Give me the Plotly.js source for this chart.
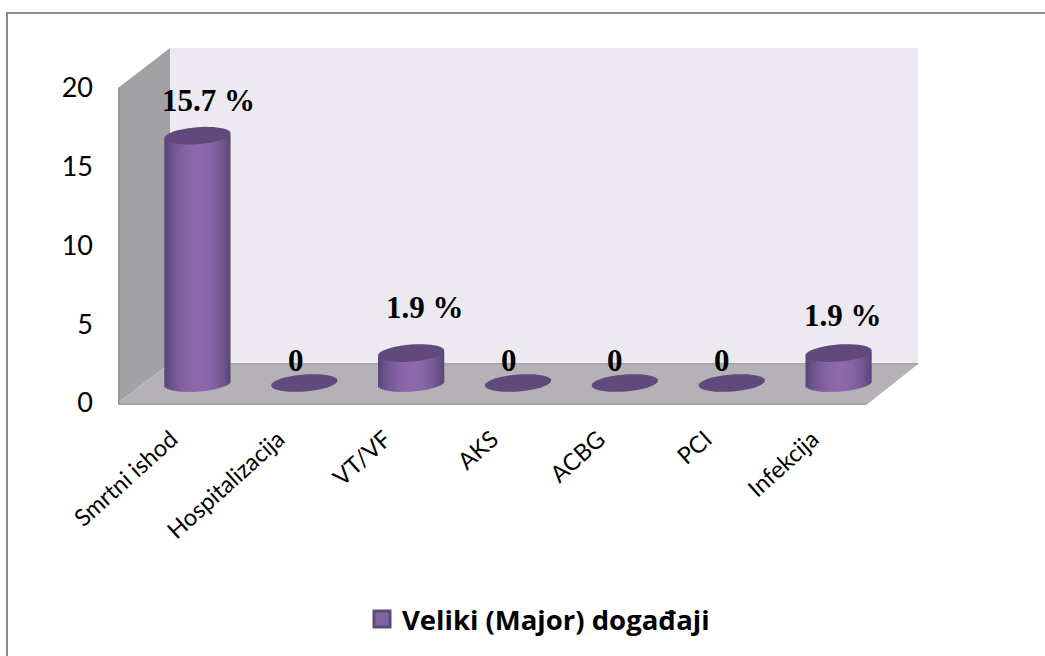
<!DOCTYPE html>
<html><head><meta charset="utf-8">
<script src="https://cdn.plot.ly/plotly-3.0.1.min.js"></script>
<style>html,body{margin:0;padding:0;background:#fff}#chart{width:1045px;height:656px}</style>
</head><body><div id="chart"></div>
<script>
var categories = ["Smrtni ishod","Hospitalizacija","VT/VF","AKS","ACBG","PCI","Infekcija"];
var values = [15.7,0,1.9,0,0,0,1.9];
var valueLabels = ["15.7 %","0","1.9 %","0","0","0","1.9 %"];
var labelShiftX = [11,-8,14,-9,-10,-10,4];
var labelShiftY = [35,23,46,23,23,23,38];
var seriesName = "Veliki (Major) događaji";

var W=1045,H=656;
var FX0=118,FX1=866,FY0=403,FY20=88,DX=52,DY=40;
function px(x){return x/W;} function py(y){return 1-y/H;}
function poly(pts,fill,line,lw){
  var p=pts.map(function(q,i){return (i?'L':'M')+px(q[0])+','+py(q[1]);}).join(' ')+' Z';
  return {type:'path',xref:'paper',yref:'paper',path:p,fillcolor:fill,line:{color:line||fill,width:lw||0},layer:'below'};
}
var shapes=[
  poly([[6,12],[1045,12],[1045,14],[8,14],[8,656],[6,656]],'#8c8c8c'),
  poly([[FX0+DX,FY20-DY],[FX1+DX,FY20-DY],[FX1+DX,FY0-DY],[FX0+DX,FY0-DY]],'#ece9f1'),
  poly([[FX0,FY20],[FX0+DX,FY20-DY],[FX0+DX,FY0-DY],[FX0,FY0]],'#a2a1a4'),
  poly([[FX0,FY0],[FX0+DX,FY0-DY],[FX1+DX,FY0-DY],[FX1,FY0]],'#b6b1b6'),
  poly([[FX0,FY0],[FX1,FY0],[FX1,FY0+2],[FX0,FY0+2]],'#a3a2a4'),
  poly([[FX1,FY0],[FX1+DX,FY0-DY],[FX1+DX,FY0-DY+1],[FX1,FY0+2]],'#a3a2a4'),
  poly([[FX0+DX,FY0-DY],[FX1+DX,FY0-DY],[FX1+DX,FY0-DY+1.5],[FX0+DX,FY0-DY+1.5]],'#a5a3a7'),
  poly([[FX0,FY20],[FX0+2,FY20-1],[FX0+2,FY0],[FX0,FY0+2]],'#979698')
];

// cylinder geometry in pixels, converted to axis units through the axis scales
var R=33.2,B=8.5,TH=4.5*Math.PI/180;
var PXX=(FX1-FX0)/categories.length, PXY=(FY0-FY20)/20;
var YMIN=-2;
var ca=Math.cos(TH),sa=Math.sin(TH);
var qA=sa*sa/(R*R)+ca*ca/(B*B), qB=sa*ca*(1/(R*R)-1/(B*B)), qC=ca*ca/(R*R)+sa*sa/(B*B);
function lowerArc(x){var d=qB*qB*x*x-qA*(qC*x*x-1);return (-qB*x-Math.sqrt(Math.max(d,0)))/qA;}
function mix(a,b,t){return Math.round(a+(b-a)*t);}
function stripColor(t){
  var k=Math.pow(Math.sin(Math.PI*Math.pow(t,1.05)),0.75);
  return 'rgb('+mix(86,141,k)+','+mix(66,105,k)+','+mix(116,172,k)+')';
}
var stripPx=2, xmax=Math.sqrt(R*R*ca*ca+B*B*sa*sa), n=Math.round(2*xmax/stripPx);
var sx=[],sb=[],sy=[],sw=[],so=[],sc=[];
values.forEach(function(v,i){
  if(v<=0) return;
  for(var k=0;k<n;k++){
    var step=2*xmax/n, x0=-xmax+k*step, xm=x0+step/2;
    var low=lowerArc(xm)/PXY, top=v+lowerArc(xm)/PXY+1/PXY;
    var extra=(k<n-1)?1.2:0;
    sx.push(categories[i]); sb.push(low); sy.push(top-low);
    sw.push((step+extra)/PXX); so.push(x0/PXX); sc.push(stripColor((k+.5)/n));
  }
});
values.forEach(function(v,i){
  var pts=[];
  for(var j=0;j<48;j++){
    var t=j/48*2*Math.PI;
    var u=R*Math.cos(t), w=B*Math.sin(t);
    var xp=u*ca-w*sa, yp=u*sa+w*ca;
    pts.push((j?'L':'M')+(i+xp/PXX)+','+(v+yp/PXY));
  }
  shapes.push({type:'path',xref:'x2',yref:'y2',path:pts.join(' ')+' Z',fillcolor:'#604a7b',line:{width:0},layer:'above'});
});

var traces=[
  {type:'scatter',mode:'none',x:categories,y:values,xaxis:'x',yaxis:'y',showlegend:false,hoverinfo:'skip'},
  {type:'bar',x:sx,y:sy,base:sb,width:sw,offset:so,xaxis:'x2',yaxis:'y2',showlegend:false,cliponaxis:false,
   marker:{color:sc,line:{width:0}},hoverinfo:'skip'},
  {type:'scatter',mode:'markers',x:[null],y:[null],xaxis:'x2',yaxis:'y2',name:seriesName,showlegend:true,
   marker:{symbol:'square',size:16,color:'#8064a2',line:{color:'#5c4a78',width:3}}}
];
var annotations=categories.map(function(c,i){
  return {xref:'x2',yref:'y2',x:c,y:values[i],text:valueLabels[i],showarrow:false,xanchor:'center',yanchor:'middle',
    xshift:labelShiftX[i],yshift:labelShiftY[i],
    font:{family:'"Liberation Serif",serif',size:31,color:'#000',weight:700}};
});
var layout={
  width:W,height:H,margin:{l:0,r:0,t:0,b:0},paper_bgcolor:'rgba(0,0,0,0)',plot_bgcolor:'rgba(0,0,0,0)',
  barmode:'overlay',showlegend:true,
  font:{family:'Lato, sans-serif',color:'#000'},
  xaxis:{type:'category',categoryorder:'array',categoryarray:categories,domain:[px(FX0),px(FX1)],range:[-0.5,6.5],anchor:'y',
    showgrid:false,zeroline:false,showline:false,ticks:'',tickangle:-42,tickfont:{size:23.5,family:'Lato, sans-serif',color:'#000'},ticklabelstandoff:17},
  yaxis:{domain:[py(FY0),py(FY20)],range:[0,20],anchor:'x',tickvals:[0,5,10,15,20],showgrid:false,zeroline:false,showline:false,ticks:'',
    tickfont:{size:27,family:'Lato, sans-serif',color:'#000'},ticklabelstandoff:24},
  xaxis2:{type:'category',categoryorder:'array',categoryarray:categories,domain:[px(FX0+DX/2),px(FX1+DX/2)],range:[-0.5,6.5],anchor:'y2',visible:false,fixedrange:true},
  yaxis2:{domain:[py(FY0-DY/2-YMIN*PXY),py(FY20-DY/2)],range:[YMIN,20],anchor:'x2',visible:false,fixedrange:true},
  legend:{x:px(362),y:py(619),xanchor:'left',yanchor:'middle',orientation:'h',bgcolor:'rgba(0,0,0,0)',
    font:{family:'"Open Sans", sans-serif',size:27.5,color:'#000',weight:700},itemsizing:'trace',itemclick:false,itemdoubleclick:false},
  shapes:shapes,annotations:annotations,hovermode:false
};
Plotly.newPlot('chart',traces,layout,{displayModeBar:false});
</script></body></html>
